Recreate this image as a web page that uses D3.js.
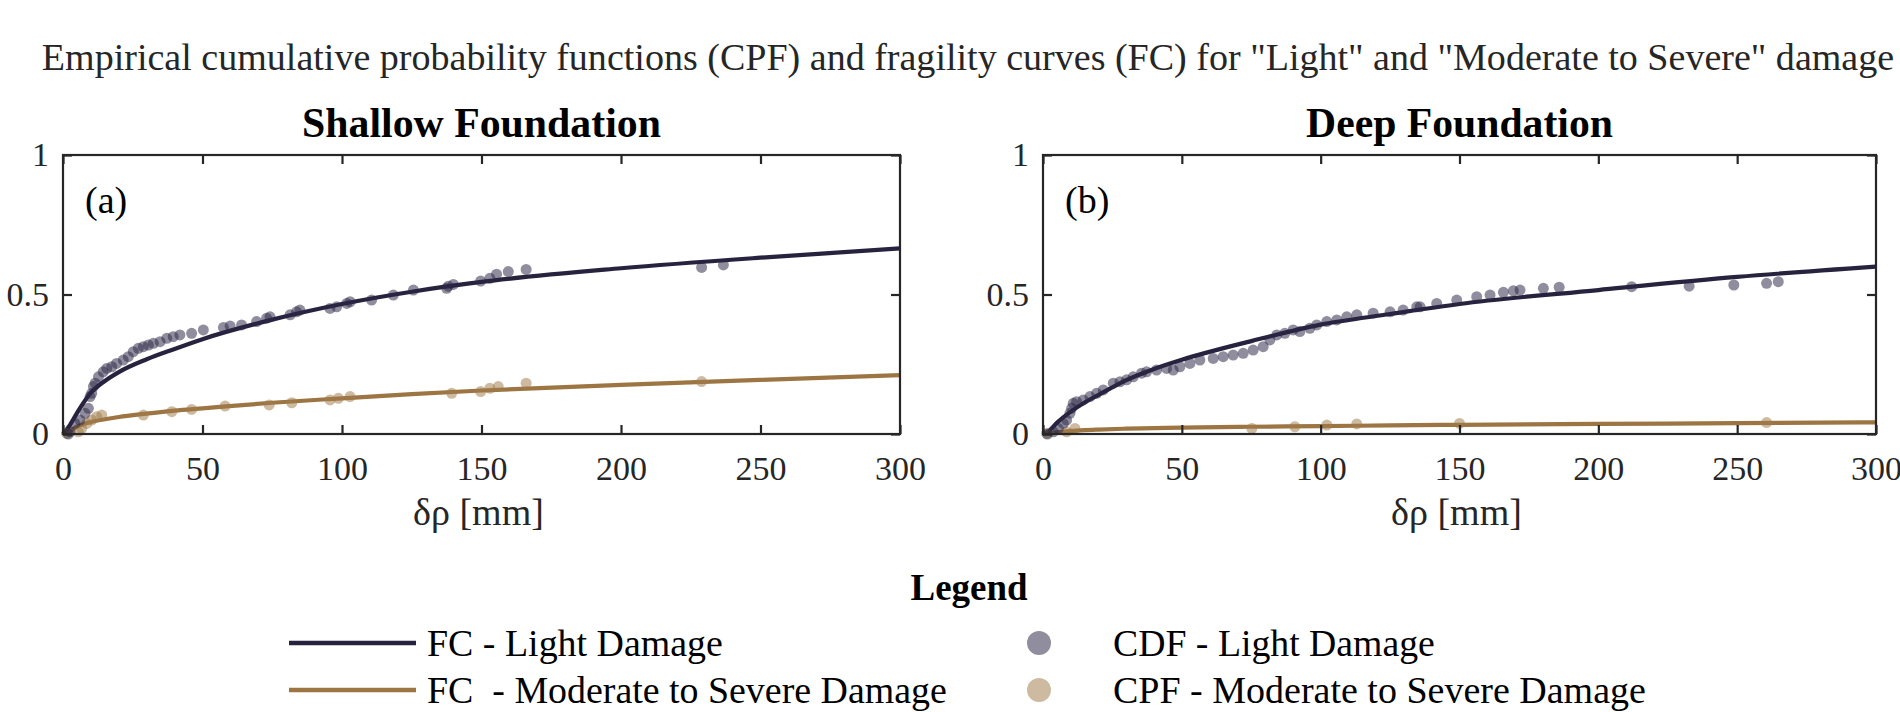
<!DOCTYPE html>
<html>
<head>
<meta charset="utf-8">
<script src="https://cdn.jsdelivr.net/npm/d3@7"></script>
<style>
  html, body { margin: 0; padding: 0; background: #ffffff; }
  svg { display: block; }
  text { white-space: pre; }
</style>
</head>
<body>
<script>
// ---------------- DATA ----------------
const chartTitle = 'Empirical cumulative probability functions (CPF) and fragility curves (FC) for "Light" and "Moderate to Severe" damage';
const panelTitles = ["Shallow Foundation", "Deep Foundation"];
const panelTags = ["(a)", "(b)"];
const xAxisLabel = "δρ [mm]";
const xTicks = [0, 50, 100, 150, 200, 250, 300];
const yTicks = [0, 0.5, 1];
const yTickLabels = ["0", "0.5", "1"];
const legendTitle = "Legend";
const legendLineLabels = ["FC - Light Damage", "FC  - Moderate to Severe Damage"];
const legendDotLabels = ["CDF - Light Damage", "CPF - Moderate to Severe Damage"];

// fragility curves
const fcX = [0, 2, 5, 10, 15, 20, 30, 40, 50, 75, 100, 125, 150, 200, 250, 300];
const shallowLightFC = [0, 0.025, 0.075, 0.148, 0.19, 0.222, 0.268, 0.305, 0.34, 0.41, 0.466, 0.51, 0.545, 0.594, 0.632, 0.665];
const shallowModFC   = [0, 0.008, 0.026, 0.043, 0.053, 0.061, 0.073, 0.084, 0.092, 0.112, 0.128, 0.143, 0.156, 0.176, 0.194, 0.211];
const deepLightFC    = [0, 0.01, 0.04, 0.08, 0.113, 0.14, 0.193, 0.233, 0.266, 0.333, 0.392, 0.43, 0.466, 0.516, 0.563, 0.60];
const deepModFC      = [0, 0.002, 0.006, 0.011, 0.014, 0.016, 0.019, 0.021, 0.023, 0.026, 0.028, 0.031, 0.033, 0.036, 0.039, 0.042];

// empirical points (settlement mm, probability)
const shallowLightX = [1.9, 2.5, 4.3, 6.1, 7.9, 9.1, 9.7, 10.3, 10.9, 11.5, 12.7, 14.4, 15.7, 17.5, 19.2, 21.6, 23.4, 25.2, 27.0, 28.8, 30.6, 32.4, 34.8, 37.2, 39.5, 41.9, 46.1, 50.3, 57.5, 59.9, 64.0, 69.4, 73.0, 74.2, 81.4, 83.7, 84.9, 95.7, 98.1, 101.7, 102.9, 110.6, 118.4, 125.6, 137.5, 138.1, 139.9, 149.7, 153.0, 155.4, 159.6, 166.0, 228.9, 236.7];
const shallowLightP = [0.0, 0.008, 0.038, 0.05, 0.074, 0.092, 0.134, 0.146, 0.17, 0.182, 0.205, 0.223, 0.235, 0.241, 0.253, 0.265, 0.277, 0.295, 0.307, 0.313, 0.319, 0.325, 0.331, 0.343, 0.349, 0.355, 0.361, 0.373, 0.382, 0.387, 0.391, 0.403, 0.415, 0.42, 0.427, 0.438, 0.444, 0.45, 0.456, 0.468, 0.474, 0.48, 0.498, 0.516, 0.522, 0.53, 0.536, 0.548, 0.558, 0.573, 0.582, 0.59, 0.597, 0.606];
const shallowModX = [1.3, 5.5, 6.7, 8.5, 10.3, 12.1, 13.9, 28.8, 39.0, 46.1, 58.1, 73.9, 82.0, 95.7, 98.7, 102.9, 139.3, 149.7, 153.0, 156.0, 166.0, 228.9];
const shallowModP = [0.002, 0.008, 0.02, 0.038, 0.05, 0.062, 0.068, 0.068, 0.08, 0.088, 0.1, 0.104, 0.112, 0.122, 0.128, 0.134, 0.146, 0.152, 0.164, 0.17, 0.182, 0.188];
const deepLightX = [1.6, 3.7, 5.5, 7.3, 8.5, 9.7, 10.3, 10.9, 12.1, 14.5, 16.9, 19.3, 21.7, 25.3, 27.7, 30.1, 32.5, 35.5, 37.3, 40.9, 44.5, 46.9, 49.3, 52.9, 56.5, 61.3, 64.9, 68.5, 72.1, 75.7, 79.3, 81.7, 84.2, 87.1, 90.1, 92.5, 96.1, 98.6, 102.2, 105.8, 109.4, 113.0, 118.9, 125.0, 129.7, 134.6, 135.8, 141.8, 149.0, 156.2, 161.0, 165.8, 169.4, 171.8, 180.2, 185.9, 212.0, 232.7, 248.8, 260.6, 264.8];
const deepLightP = [0.0, 0.008, 0.02, 0.038, 0.05, 0.074, 0.092, 0.11, 0.116, 0.122, 0.134, 0.146, 0.158, 0.182, 0.187, 0.194, 0.205, 0.218, 0.223, 0.229, 0.235, 0.229, 0.241, 0.253, 0.265, 0.271, 0.277, 0.283, 0.289, 0.301, 0.313, 0.337, 0.355, 0.361, 0.373, 0.367, 0.379, 0.391, 0.403, 0.409, 0.42, 0.427, 0.433, 0.438, 0.444, 0.456, 0.456, 0.468, 0.48, 0.492, 0.498, 0.508, 0.513, 0.516, 0.522, 0.526, 0.528, 0.53, 0.534, 0.54, 0.546];
const deepModX = [1.3, 8.5, 11.5, 75.2, 90.7, 102.2, 113.0, 150.0, 260.6];
const deepModP = [0.002, 0.008, 0.02, 0.02, 0.026, 0.032, 0.036, 0.038, 0.041];

// ---------------- STYLE / LAYOUT ----------------
const W = 1900, H = 712;
const FONT = "'Liberation Serif', 'Times New Roman', serif";
const darkLine = "#27233f", brownLine = "#9d7543";
const darkDot = "#2a2745", brownDot = "#a07a48", dotAlpha = 0.52;
const axisCol = "#262626";
const plotTop = 155, plotBottom = 434;
const panels = [
  {left: 63, right: 900, title: panelTitles[0], tag: panelTags[0], titleW: 359,
   light: shallowLightFC, mod: shallowModFC, lx: shallowLightX, lp: shallowLightP, mx: shallowModX, mp: shallowModP},
  {left: 1043, right: 1876, title: panelTitles[1], tag: panelTags[1], titleW: 307,
   light: deepLightFC, mod: deepModFC, lx: deepLightX, lp: deepLightP, mx: deepModX, mp: deepModP}
];

const svg = d3.select("body").append("svg").attr("width", W).attr("height", H)
  .style("font-family", FONT);

function fit(sel, width) {
  const l = sel.node().getComputedTextLength();
  const fs = parseFloat(sel.attr("font-size"));
  if (l > 0) sel.attr("font-size", fs * width / l);
  return sel;
}

// Title
fit(svg.append("text").attr("x", 968).attr("y", 70).attr("text-anchor", "middle")
  .attr("font-size", 36).attr("fill", "#262626").text(chartTitle), 1853);

panels.forEach(p => {
  const x = d3.scaleLinear().domain([0, 300]).range([p.left, p.right]);
  const y = d3.scaleLinear().domain([0, 1]).range([plotBottom, plotTop]);
  const g = svg.append("g");
  const cx = (p.left + p.right) / 2;

  // panel title
  fit(g.append("text").attr("x", cx).attr("y", 137).attr("text-anchor", "middle")
    .attr("font-size", 40).attr("font-weight", "bold").attr("fill", "#000").text(p.title), p.titleW);

  // curves
  const line = d3.line().x((d, i) => x(fcX[i])).y(d => y(d)).curve(d3.curveMonotoneX);
  g.append("path").attr("d", line(p.mod)).attr("fill", "none").attr("stroke", brownLine).attr("stroke-width", 4.2);
  g.append("path").attr("d", line(p.light)).attr("fill", "none").attr("stroke", darkLine).attr("stroke-width", 4.2);

  // points
  g.append("g").selectAll("circle").data(p.mx).join("circle")
    .attr("cx", d => x(d)).attr("cy", (d, i) => y(p.mp[i])).attr("r", 5.5)
    .attr("fill", brownDot).attr("fill-opacity", dotAlpha);
  g.append("g").selectAll("circle").data(p.lx).join("circle")
    .attr("cx", d => x(d)).attr("cy", (d, i) => y(p.lp[i])).attr("r", 5.5)
    .attr("fill", darkDot).attr("fill-opacity", dotAlpha);

  // axes (box with inward ticks)
  const tl = 9;
  const axB = g.append("g").attr("transform", `translate(0,${plotBottom})`)
    .call(d3.axisBottom(x).tickValues(xTicks).tickSizeInner(-tl).tickSizeOuter(0).tickPadding(22).tickFormat(d3.format("d")));
  const axT = g.append("g").attr("transform", `translate(0,${plotTop})`)
    .call(d3.axisTop(x).tickValues(xTicks).tickSizeInner(-tl).tickSizeOuter(0).tickFormat(""));
  const axL = g.append("g").attr("transform", `translate(${p.left},0)`)
    .call(d3.axisLeft(y).tickValues(yTicks).tickSizeInner(-tl).tickSizeOuter(0).tickPadding(14)
      .tickFormat((d, i) => yTickLabels[i]));
  const axR = g.append("g").attr("transform", `translate(${p.right},0)`)
    .call(d3.axisRight(y).tickValues(yTicks).tickSizeInner(-tl).tickSizeOuter(0).tickFormat(""));
  [axB, axT, axL, axR].forEach(a => {
    a.select(".domain").remove();
    a.selectAll("line").attr("stroke", axisCol).attr("stroke-width", 2.2);
    a.selectAll("text").attr("font-family", FONT).attr("font-size", 34).attr("fill", axisCol);
  });
  axB.selectAll("text").attr("dy", "0.72em");
  g.append("rect").attr("x", p.left).attr("y", plotTop).attr("width", p.right - p.left).attr("height", plotBottom - plotTop)
    .attr("fill", "none").attr("stroke", axisCol).attr("stroke-width", 2.2);

  // panel tag
  g.append("text").attr("x", p.left + 22).attr("y", 213).attr("font-size", 38).attr("fill", "#000").text(p.tag);

  // x label
  g.append("text").attr("x", cx - 3).attr("y", 525).attr("text-anchor", "middle")
    .attr("font-size", 38).attr("fill", axisCol).text(xAxisLabel);
});

// Legend
fit(svg.append("text").attr("x", 969).attr("y", 600).attr("text-anchor", "middle")
  .attr("font-size", 36).attr("font-weight", "bold").attr("fill", "#000").text(legendTitle), 117);

const rowsY = [643, 690];
const lineCols = [darkLine, brownLine];
const dotCols = [darkDot, brownDot];
const lineTxtW = [296, 520];
const dotTxtW = [322, 533];
rowsY.forEach((ry, i) => {
  svg.append("line").attr("x1", 289).attr("x2", 416).attr("y1", ry).attr("y2", ry)
    .attr("stroke", lineCols[i]).attr("stroke-width", 4.5);
  fit(svg.append("text").attr("x", 427).attr("y", ry + 13).attr("font-size", 38).attr("fill", "#000")
    .attr("xml:space", "preserve").text(legendLineLabels[i]), lineTxtW[i]);
  svg.append("circle").attr("cx", 1039).attr("cy", ry).attr("r", 12)
    .attr("fill", dotCols[i]).attr("fill-opacity", dotAlpha);
  fit(svg.append("text").attr("x", 1113).attr("y", ry + 13).attr("font-size", 38).attr("fill", "#000")
    .text(legendDotLabels[i]), dotTxtW[i]);
});
</script>
</body>
</html>
